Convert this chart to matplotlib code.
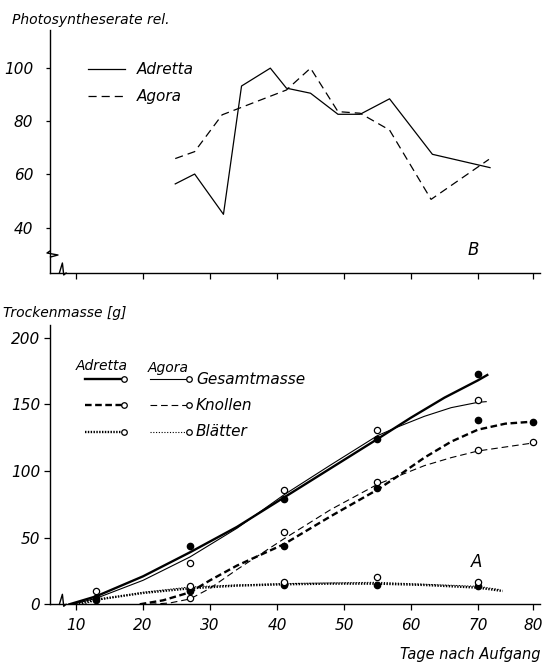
import numpy as np
import matplotlib
matplotlib.use('Agg')
import matplotlib.pyplot as plt

plt.rcParams['font.family'] = ['DejaVu Sans']
plt.rcParams['font.style'] = 'italic'
plt.rcParams['font.size'] = 10.5

# B: Photosyntheserate rel.
ps_adretta_tage = [24.8, 27.7, 32, 34.7, 39, 41.4, 45, 49.1, 52.4, 56.8, 63.2, 72.2]
ps_adretta = [56.4, 60.1, 45, 93.1, 99.8, 92.3, 90.4, 82.5, 82.5, 88.3, 67.5, 62.5]
ps_agora_tage = [24.8, 27.7, 31.8, 41.4, 45, 49.1, 52.4, 56.8, 63, 72]
ps_agora = [65.9, 68.5, 82.3, 91.6, 99.8, 83.5, 82.9, 76.6, 50.6, 65.6]
ps_yticks = [40, 60, 80, 100]

# A: Trockenmasse [g], measured points
adr_ges_tage = [13, 27, 41, 55, 70]
adr_ges = [5, 43.5, 79, 124, 173]
ago_ges_tage = [13, 27, 41, 55, 70]
ago_ges = [10, 31, 85.5, 130.5, 153]
adr_kn_tage = [27, 41, 55, 70, 80]
adr_kn = [10, 44, 87, 138.5, 137]
ago_kn_tage = [27, 41, 55, 70, 80]
ago_kn = [4.5, 54, 91.5, 115.5, 121.5]
adr_bl_tage = [13, 27, 41, 55, 70]
adr_bl = [3.5, 10.5, 14.5, 14.5, 13.5]
ago_bl_tage = [27, 41, 55, 70]
ago_bl = [14, 17, 20.5, 16.5]

# A: hand-drawn curves
adr_ges_kx = [9, 13, 20, 27, 34, 41, 48, 55, 60, 65, 70, 71.7]
adr_ges_ky = [0, 6, 21, 39, 58, 80, 102, 124, 140, 155, 168, 172]
ago_ges_kx = [9.5, 13, 20, 27, 34, 41, 48, 55, 58, 62, 66, 70, 71.5]
ago_ges_ky = [0, 4.5, 18, 35.5, 57, 82, 104.5, 126.5, 133, 141, 147.5, 151.5, 152]
adr_kn_kx = [19.5, 23, 27, 30, 34, 41, 48, 55, 58, 62, 66, 70, 75, 80]
adr_kn_ky = [0, 3, 9, 18, 29, 45, 66, 86, 96, 110, 122, 131, 135.5, 137]
ago_kn_kx = [21, 24, 27, 30, 34, 41, 48, 55, 58, 62, 66, 70, 75, 80]
ago_kn_ky = [0, 1, 4, 12, 26, 49, 71, 90, 96, 104, 110, 115, 118, 121]
adr_bl_kx = [10, 13, 20, 27, 34, 41, 48, 55, 62, 70, 74.5]
adr_bl_ky = [0, 3.5, 8.5, 12, 14, 15, 15.5, 15.5, 14.5, 12.5, 10]
ago_bl_kx = [11, 13, 20, 27, 34, 41, 48, 55, 62, 70, 74]
ago_bl_ky = [0, 3, 9, 13, 14.5, 15.5, 16, 16.5, 15, 13.5, 11]
tm_yticks = [0, 50, 100, 150, 200]

xticks = [10, 20, 30, 40, 50, 60, 70, 80]


def fwd(x):
    x = np.asarray(x, dtype=float)
    return np.where(x <= 70, x, 70 + 0.82 * (x - 70))


def inv(u):
    u = np.asarray(u, dtype=float)
    return np.where(u <= 70, u, 70 + (u - 70) / 0.82)


W, H = 542, 665
fig = plt.figure(figsize=(W / 100, H / 100), dpi=100)


def px(x, y):
    return x / W, 1 - y / H


def style_axes(ax, h):
    ax.set_xscale('function', functions=(fwd, inv))
    ax.set_xlim(6.1, 81.3)
    ax.spines['top'].set_visible(False)
    ax.spines['right'].set_visible(False)
    for s in ('left', 'bottom'):
        ax.spines[s].set_linewidth(1.0)
    ax.tick_params(direction='out', length=4, width=0.9)
    # break mark on x axis
    tr = ax.get_xaxis_transform()
    ax.plot([7.5, 7.95, 8.15, 8.5], [0, 10 / h, -2 / h, 0], color='k', lw=1.0,
            transform=tr, clip_on=False)


# ---- top panel (B)
ax1 = fig.add_axes([50 / W, 1 - 273 / H, 490 / W, 243 / H])
style_axes(ax1, 243)
ax1.set_ylim(23.0, 114.1)
ax1.set_xticks(xticks)
ax1.set_yticks(ps_yticks, labels=[str(v) for v in ps_yticks])
ax1.tick_params(axis='x', labelbottom=False)
ax1.tick_params(axis='y', length=3, pad=9, labelsize=11)
# break on y axis
ax1.plot(np.array([0, -3, 8, 0.5]) / 490, np.array([22, 20, 18, 16]) / 243, color='k',
         lw=1.0, transform=ax1.transAxes, clip_on=False)

ax1.plot(ps_adretta_tage, ps_adretta, color='k', lw=0.9)
ax1.plot(ps_agora_tage, ps_agora, color='k', lw=0.9, ls=(0, (6.5, 4)))

fig.text(*px(12, 20), 'Photosyntheserate rel.', fontsize=10, va='center')
fig.add_artist(plt.Line2D([88 / W, 125 / W], [1 - 69.3 / H] * 2, color='k', lw=0.9))
fig.add_artist(plt.Line2D([88 / W, 125 / W], [1 - 96 / H] * 2, color='k', lw=0.9,
                          ls=(0, (6.5, 4))))
fig.text(*px(137, 69), 'Adretta', fontsize=11, va='center')
fig.text(*px(137, 96), 'Agora', fontsize=11, va='center')
fig.text(*px(473, 250), 'B', fontsize=12, va='center', ha='center')

# ---- bottom panel (A)
ax2 = fig.add_axes([50 / W, 1 - 604.3 / H, 490 / W, 279.3 / H])
style_axes(ax2, 279.3)
ax2.set_ylim(0, 209.5)
ax2.set_xticks(xticks, labels=[str(v) for v in xticks])
ax2.set_yticks(tm_yticks, labels=[str(v) for v in tm_yticks])
ax2.tick_params(axis='y', pad=3, labelsize=11)
ax2.tick_params(axis='x', pad=6, labelsize=11)

for a in (ax1, ax2):
    for lab in a.get_xticklabels() + a.get_yticklabels():
        lab.set_fontstyle('italic')

thick = 1.7
thin = 0.8
ax2.plot(adr_ges_kx, adr_ges_ky, color='k', lw=thick)
ax2.plot(ago_ges_kx, ago_ges_ky, color='k', lw=thin)
ax2.plot(adr_kn_kx, adr_kn_ky, color='k', lw=thick, ls=(0, (2.8, 1.5)))
ax2.plot(ago_kn_kx, ago_kn_ky, color='k', lw=thin, ls=(0, (6, 3.5)))
ax2.plot(adr_bl_kx, adr_bl_ky, color='k', lw=thick, ls=(0, (0.6, 0.6)))
ax2.plot(ago_bl_kx, ago_bl_ky, color='k', lw=thin, ls=(0, (1, 1.5)))

for tx, ty in [(adr_ges_tage, adr_ges), (adr_kn_tage, adr_kn), (adr_bl_tage, adr_bl)]:
    ax2.plot(tx, ty, ls='none', marker='o', ms=4.5, mfc='k', mec='k', zorder=4)
for tx, ty in [(ago_ges_tage, ago_ges), (ago_kn_tage, ago_kn), (ago_bl_tage, ago_bl)]:
    ax2.plot(tx, ty, ls='none', marker='o', ms=4.5, mfc='w', mec='k', mew=0.9, zorder=5)

fig.text(*px(3, 313), 'Trockenmasse [g]', fontsize=10, va='center')
fig.text(*px(540, 655), 'Tage nach Aufgang', fontsize=10.5, va='center', ha='right')
fig.text(*px(477, 562), 'A', fontsize=12, va='center', ha='center')

# legend of panel A
fig.text(*px(102, 366), 'Adretta', fontsize=10, va='center', ha='center')
fig.text(*px(168, 368), 'Agora', fontsize=10, va='center', ha='center')
leg_rows = [379, 405, 431.7]
leg_labels = ['Gesamtmasse', 'Knollen', 'Blätter']
styles_adr = ['-', (0, (2.8, 1.5)), (0, (0.6, 0.6))]
styles_ago = ['-', (0, (6, 3.5)), (0, (1, 1.5))]
for yy, lab, sa, sg in zip(leg_rows, leg_labels, styles_adr, styles_ago):
    fy = 1 - yy / H
    fig.add_artist(plt.Line2D([85 / W, 122 / W], [fy, fy], color='k', lw=thick, ls=sa))
    fig.add_artist(plt.Line2D([124 / W], [fy], marker='o', ms=4, mfc='w', mec='k', mew=0.9))
    fig.add_artist(plt.Line2D([150 / W, 187 / W], [fy, fy], color='k', lw=thin, ls=sg))
    fig.add_artist(plt.Line2D([189 / W], [fy], marker='o', ms=4, mfc='w', mec='k', mew=0.9))
    fig.text(*px(196, yy), lab, fontsize=11, va='center')

fig.savefig('out.png', dpi=100)
